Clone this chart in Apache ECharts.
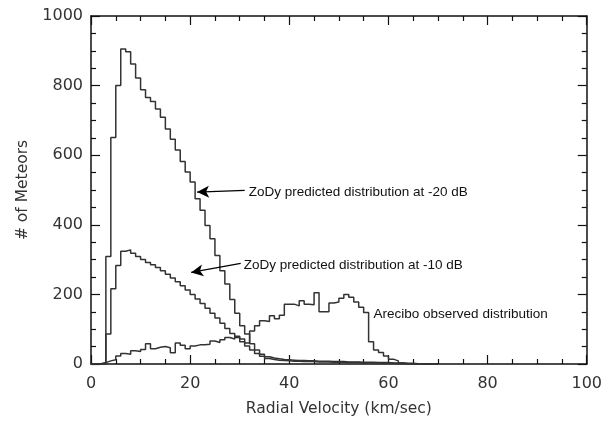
<!DOCTYPE html>
<html><head><meta charset="utf-8">
<script src="https://cdn.jsdelivr.net/npm/echarts@6/dist/echarts.min.js"></script>
<style>html,body{margin:0;padding:0;background:#fff}#c{width:605px;height:424px}</style>
</head><body><div id="c"></div>
<script>
// Histogram bins: width 1 km/s, bin i spans [i, i+1]
const zody20 = [0,0,0,309,651,800,905,897,862,822,788,766,754,733,709,675,646,615,582,552,
  523,475,442,398,360,312,268,230,185,146,110,86,58,40,28,21,17,15,13,12,
  11,10,10,9,9,8,8,8,7,7,7,6,6,6,5,5,5,4,4,4,3,3,3,2,2,1,1,0,0,0];
const zody10 = [0,0,0,86,216,283,324,328,318,309,300,292,285,277,268,258,247,236,225,213,
  200,187,174,160,146,132,117,102,88,76,64,52,40,30,22,16,13,11,10,9,
  8,8,7,7,7,6,6,6,5,5,5,4,4,4,3,3,3,3,2,2,2,1,1,1,1,0,0,0,0,0];
const arecibo = [0,1,4,9,12,23,30,28,38,36,42,58,44,48,50,47,32,60,54,44,
  52,55,55,57,66,62,70,76,72,80,72,60,95,110,124,122,139,130,140,172,
  172,167,182,172,170,205,150,150,175,178,189,200,192,178,163,148,64,40,33,23,
  14,9,3,1,0,0,0,0,0,0];
const xTickValues = [0, 20, 40, 60, 80, 100];
const yTickValues = [0, 200, 400, 600, 800, 1000];
const xName = 'Radial Velocity (km/sec)';
const yName = '# of Meteors';
// annotations: [arrowTailX, arrowTailY, arrowTipX, arrowTipY, textX, textY, text]
const note20 = [31, 499, 21.4, 494, 31.8, 494, 'ZoDy predicted distribution at -20 dB'];
const note10 = [30.2, 289, 20.2, 263, 30.8, 283, 'ZoDy predicted distribution at -10 dB'];
const noteAre = [57, 144, 'Arecibo observed distribution'];

function steps(arr){ return arr.map((v,i)=>[i,v]).concat([[arr.length, 0]]); }

const ink = '#333';
const tickFont = {fontFamily:'DejaVu Sans', fontSize:16, color:'#333'};
function axisCommon(){
  return {
    axisLine:{show:true, onZero:false, lineStyle:{color:'#111', width:1.5}},
    axisTick:{show:true, inside:true, length:9, lineStyle:{color:'#111', width:1.2}},
    minorTick:{show:true, splitNumber:4, length:5, lineStyle:{color:'#111', width:1.2}},
    splitLine:{show:false}
  };
}
const annFont = {fontFamily:'Liberation Sans', fontSize:13.5, color:'#111'};

const chart = echarts.init(document.getElementById('c'), null, {renderer:'canvas'});
chart.setOption({
  animation:false,
  backgroundColor:'#fff',
  grid:{left:91, right:14, top:16, bottom:60},
  xAxis:[
    Object.assign(axisCommon(), {type:'value', min:0, max:100, interval:20, position:'bottom',
      axisLabel:Object.assign({margin:12, formatter:v=>String(v)}, tickFont),
      name:xName, nameLocation:'middle', nameGap:37,
      nameTextStyle:{fontFamily:'DejaVu Sans', fontSize:15.5, color:'#333'}}),
    Object.assign(axisCommon(), {type:'value', min:0, max:100, interval:20, position:'top',
      axisLabel:{show:false}})
  ],
  yAxis:[
    Object.assign(axisCommon(), {type:'value', min:0, max:1000, interval:200, position:'left',
      axisLabel:Object.assign({margin:8, formatter:v=>String(v)}, tickFont),
      name:yName, nameLocation:'middle', nameGap:56, nameRotate:90,
      nameTextStyle:{fontFamily:'DejaVu Sans', fontSize:15.5, color:'#333'}}),
    Object.assign(axisCommon(), {type:'value', min:0, max:1000, interval:200, position:'right',
      axisLabel:{show:false}})
  ],
  series:[
    {type:'line', step:'end', symbol:'none', data:steps(zody20), silent:true,
     lineStyle:{color:ink, width:1.5},
     markLine:{silent:true, symbol:['none','arrow'], symbolSize:[9, 12],
       lineStyle:{color:'#000', width:1.3, type:'solid'}, label:{show:false},
       itemStyle:{color:'#000'},
       data:[[{coord:[note20[0],note20[1]]},{coord:[note20[2],note20[3]]}],
             [{coord:[note10[0],note10[1]]},{coord:[note10[2],note10[3]]}]]},
     markPoint:{silent:true, symbol:'circle', symbolSize:0,
       label:Object.assign({show:true, position:'right', distance:0}, annFont),
       data:[{coord:[note20[4],note20[5]], value:note20[6], label:{formatter:note20[6]}},
             {coord:[note10[4],note10[5]], value:note10[6], label:{formatter:note10[6]}},
             {coord:[noteAre[0],noteAre[1]], value:noteAre[2], label:{formatter:noteAre[2]}}]}
    },
    {type:'line', step:'end', symbol:'none', data:steps(zody10), silent:true,
     lineStyle:{color:ink, width:1.5}},
    {type:'line', step:'end', symbol:'none', data:steps(arecibo), silent:true,
     lineStyle:{color:ink, width:1.5}}
  ]
});
</script></body></html>
